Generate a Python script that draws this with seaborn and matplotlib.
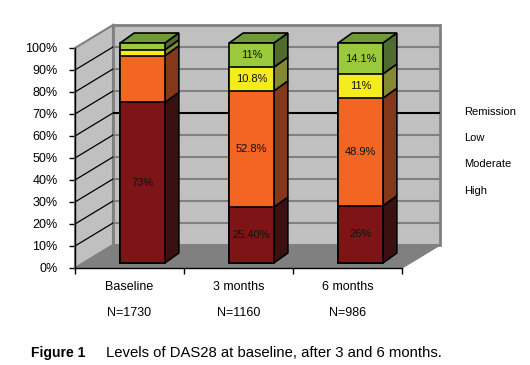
import matplotlib
matplotlib.use("Agg")
import matplotlib.pyplot as plt
import seaborn as sns
import pandas as pd
from matplotlib.patches import Polygon

# ---------------- data ----------------
categories = ["Baseline", "3 months", "6 months"]
n_labels = ["N=1730", "N=1160", "N=986"]
series = ["High", "Moderate", "Low", "Remission"]
high = [73.0, 25.4, 26.0]
moderate = [21.2, 52.8, 48.9]
low = [2.7, 10.8, 11.0]
remission = [3.1, 11.0, 14.1]
high_labels = ["73%", "25.40%", "26%"]
moderate_labels = ["", "52.8%", "48.9%"]
low_labels = ["", "10.8%", "11%"]
remission_labels = ["", "11%", "14.1%"]
yticks = list(range(0, 101, 10))
ytick_labels = [f"{t}%" for t in yticks]
legend_order = ["Remission", "Low", "Moderate", "High"]

values = {"High": high, "Moderate": moderate, "Low": low, "Remission": remission}
labels = {"High": high_labels, "Moderate": moderate_labels, "Low": low_labels,
          "Remission": remission_labels}

front_colors = {"High": "#7f1416", "Moderate": "#f26522", "Low": "#f4ec1c", "Remission": "#9bc93c"}
side_colors = {"High": "#3c0f10", "Moderate": "#853719", "Low": "#858a32", "Remission": "#4f6b2d"}
top_color = "#6f9a39"

sns.set_theme(style="white")
plt.rcParams["font.family"] = ["Liberation Sans", "DejaVu Sans"]
narrow = ["Liberation Sans Narrow", "Liberation Sans", "DejaVu Sans"]

W, H = 530, 365
fig = plt.figure(figsize=(W / 100, H / 100), dpi=100)
fig.patch.set_facecolor("white")
ax = fig.add_axes([75 / W, 97 / H, 327 / W, 220 / H])

pxx = 3 / 327.0
pxy = 100 / 220.0
Dx, Dy = 38 * pxx, 23 * pxy          # full depth of the walls
fx, fy = 13 * pxx, 5 * pxy           # bar front offset
bx, by = 14 * pxx, 10 * pxy          # bar depth
bw = 0.41

# cumulative table
rows = []
for i, c in enumerate(categories):
    cum = 0.0
    for s in series:
        v = values[s][i]
        rows.append({"category": c, "series": s, "value": v, "below": cum, "cum": cum + v})
        cum += v
df = pd.DataFrame(rows)

# ---------- front faces (seaborn, overlay stacking) ----------
for s in reversed(series):
    sub = df[df["series"] == s]
    sns.barplot(data=sub, x="category", y="cum", order=categories, color=front_colors[s],
                saturation=1, width=bw, edgecolor="black", linewidth=1.2,
                bottom=fy, ax=ax, zorder=6, errorbar=None)
for p in ax.patches:
    p.set_x(p.get_x() + fx)
    p.set_clip_on(False)

# ---------- walls & floor ----------
side = Polygon([(-0.5, 0), (-0.5, 100), (-0.5 + Dx, 100 + Dy), (-0.5 + Dx, Dy)],
               closed=True, facecolor="#c0c0c0", edgecolor="#808080", lw=1.5, zorder=1, clip_on=False)
back = Polygon([(-0.5 + Dx, Dy), (2.5 + Dx, Dy), (2.5 + Dx, 100 + Dy), (-0.5 + Dx, 100 + Dy)],
               closed=True, facecolor="#c0c0c0", edgecolor="#808080", lw=2, zorder=1, clip_on=False)
floor = Polygon([(-0.5, 0), (2.5, 0), (2.5 + Dx, Dy), (-0.5 + Dx, Dy)],
                closed=True, facecolor="#808080", edgecolor="#808080", lw=1, zorder=3, clip_on=False)
for poly in (side, back, floor):
    ax.add_patch(poly)
for t in yticks[1:-1]:
    ax.plot([-0.5 + Dx, 2.5 + Dx], [t + Dy, t + Dy], color="black" if t == 60 else "#808080",
            lw=1.5, zorder=2, clip_on=False, solid_capstyle="butt")
    ax.plot([-0.5, -0.5 + Dx], [t, t + Dy], color="black", lw=0.9, zorder=2, clip_on=False)

# ---------- bar sides and tops ----------
for i, c in enumerate(categories):
    xl = i - bw / 2 + fx
    xr = i + bw / 2 + fx
    for s in series:
        r = df[(df["category"] == c) & (df["series"] == s)].iloc[0]
        y0, y1 = fy + r["below"], fy + r["cum"]
        ax.add_patch(Polygon([(xr, y0), (xr + bx, y0 + by), (xr + bx, y1 + by), (xr, y1)],
                             closed=True, facecolor=side_colors[s], edgecolor="black",
                             lw=1.2, zorder=5, clip_on=False))
        lab = labels[s][i]
        if lab:
            ax.text(i + fx, (y0 + y1) / 2, lab, ha="center", va="center", fontsize=8,
                    color="#111111", zorder=8)
    ytop = fy + df[df["category"] == c]["cum"].max()
    ax.add_patch(Polygon([(xl, ytop), (xr, ytop), (xr + bx, ytop + by), (xl + bx, ytop + by)],
                         closed=True, facecolor=top_color, edgecolor="black", lw=1.2,
                         zorder=5, clip_on=False))

# ---------- axes ----------
ax.set_xlim(-0.5, 2.5)
ax.set_ylim(0, 100)
ax.set_facecolor("white")
ax.set_xlabel("")
ax.set_ylabel("")
for sp in ("top", "right"):
    ax.spines[sp].set_visible(False)
for sp in ("left", "bottom"):
    ax.spines[sp].set_color("black")
    ax.spines[sp].set_linewidth(1.0)
    ax.spines[sp].set_zorder(4)
ax.set_yticks(yticks)
ax.set_yticklabels(ytick_labels)
ax.set_xticks([-0.5, 0.5, 1.5, 2.5])
ax.set_xticklabels([])
ax.tick_params(axis="both", direction="out", length=4, width=1, color="black",
               labelsize=9, labelcolor="black", pad=8.5, left=True, bottom=True)

for i, c in enumerate(categories):
    ax.text(i, -19 * pxy, c, ha="center", va="center", fontsize=9, color="black", clip_on=False)
    ax.text(i, -45 * pxy, n_labels[i], ha="center", va="center", fontsize=9, color="black",
            clip_on=False)

# text-only legend
leg_y = [112, 138, 164, 191]
for name, y in zip(legend_order, leg_y):
    fig.text(464 / W, 1 - y / H, name, ha="left", va="center", fontsize=8, color="black")

# caption
fig.text(31 / W, 1 - 353 / H, "Figure 1", ha="left", va="center", fontsize=10,
         fontweight="bold", family=narrow, color="black")
fig.text(106 / W, 1 - 353 / H, "Levels of DAS28 at baseline, after 3 and 6 months.",
         ha="left", va="center", fontsize=10.7, family=narrow, color="black")

fig.savefig("out.png", dpi=100, facecolor="white")
